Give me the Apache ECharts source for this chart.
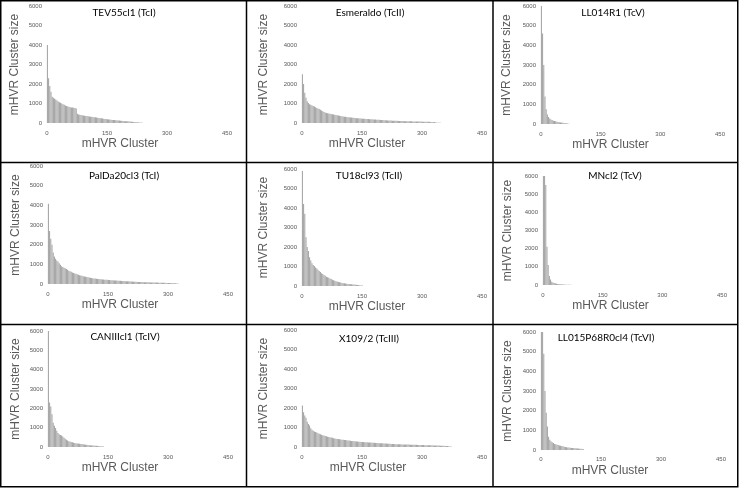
<!DOCTYPE html>
<html>
<head>
<meta charset="utf-8">
<script src="https://cdn.jsdelivr.net/npm/echarts@6/dist/echarts.min.js"></script>
<style>
html,body{margin:0;padding:0;background:#fff;}
#chart{width:740px;height:488px;}
</style>
</head>
<body>
<div id="chart"></div>
<script>
const STEP = 3;
const xTicks = [0, 150, 300, 450];
const yTicks = [0, 1000, 2000, 3000, 4000, 5000, 6000];
const titles = ['TEV55cl1 (TcI)', 'Esmeraldo (TcII)', 'LL014R1 (TcV)',
                'PalDa20cl3 (TcI)', 'TU18cl93 (TcII)', 'MNcl2 (TcV)',
                'CANIIIcl1 (TcIV)', 'X109/2 (TcIII)', 'LL015P68R0cl4 (TcVI)'];
const xName = 'mHVR Cluster';
const yName = 'mHVR Cluster size';

const tev55 = [4000,2300,1900,1600,1350,1300,1250,1200,1150,1100,1060,1040,1000,960,930,900,870,850,830,810,800,790,780,770,740,470,440,425,410,395,385,375,365,355,345,335,325,315,305,300,290,280,270,260,250,240,230,220,210,200,195,185,175,170,160,155,150,140,135,130,125,120,110,105,100,95,90,85,80,72,65,60,55,48,40,35,30,25,20,12];
const esmeraldo = [2500,2000,1550,1300,1120,1020,960,930,900,870,850,810,770,740,715,680,640,600,570,540,515,500,485,470,460,450,435,425,415,400,385,370,355,345,335,325,315,305,298,290,283,276,270,263,256,250,244,238,232,226,220,216,212,208,204,200,195,190,186,182,178,174,170,166,162,158,153,149,145,141,138,134,130,127,124,121,118,115,112,109,106,104,102,100,98,96,94,92,90,88,86,84,82,80,78,76,75,74,73,72,70,68,66,64,62,60,58,55,52,50,45,30,22,18,14,10];
const ll014 = [6000,4600,3000,1400,750,480,350,280,230,200,170,150,135,120,105,90,80,70,60,50,40,32,25,15];
const palda = [4080,2700,2300,2000,1600,1400,1280,1200,1140,1060,980,900,860,830,800,760,720,680,650,620,590,560,540,515,490,465,450,435,420,400,385,370,355,340,328,316,305,295,285,276,268,260,252,245,238,232,226,220,215,210,205,200,195,190,186,182,178,174,170,166,162,158,154,150,146,142,138,134,130,126,122,118,114,110,106,102,100,98,96,94,92,90,88,86,84,82,80,78,76,74,72,70,68,66,64,62,60,58,56,54,52,50,48,45,42,38,34,30,22];
const tu18 = [5900,4200,3700,2500,2000,1800,1480,1310,1170,1080,1020,950,900,830,770,720,660,610,570,520,480,450,420,390,355,320,300,270,250,230,210,195,175,155,145,135,125,115,105,100,95,88,82,76,70,62,55,48,40,30,20];
const mncl2 = [6000,6000,5500,2100,1100,500,300,180,140,110,90,75,60,50,42,36,30,26,22,18,15,12,10,8,6];
const caniii = [6000,2300,2100,1700,1250,1100,980,840,720,660,620,590,540,480,430,380,330,300,280,265,245,225,210,195,185,175,165,158,150,140,130,122,112,104,96,90,84,78,72,68,62,56,50,44,38,30,20];
const x109 = [2130,1780,1620,1500,1300,1180,1100,960,880,830,800,770,740,710,680,655,625,605,585,565,550,530,515,500,485,470,455,440,425,415,405,395,385,378,370,362,354,346,338,330,322,312,304,298,292,286,280,274,268,262,256,252,248,244,240,235,230,226,222,218,214,210,206,202,198,194,190,186,182,178,174,170,166,162,158,155,152,149,146,143,140,138,136,134,132,130,128,126,124,122,120,118,116,114,112,110,108,106,104,102,100,98,96,94,92,90,88,86,84,82,80,78,76,74,72,70,66,62,58,54,50,45,40,32,22];
const ll015 = [6000,6000,4900,3000,1900,1200,680,520,440,390,350,310,290,270,250,230,215,200,185,170,155,140,130,122,115,108,102,98,92,86,80,74,68,60,50,40];

const seriesValues = [tev55, esmeraldo, ll014, palda, tu18, mncl2, caniii, x109, ll015];

// ---- LAYOUT (pixels) ----
const plots = [
  [47, 6, 180, 117], [302, 6, 180, 117], [541, 6, 179, 118],
  [48, 166, 180, 118], [302, 169, 180, 117], [543, 176, 179, 109],
  [48, 331, 180, 116], [302, 330, 180, 117], [541, 332, 180, 118]
];
const titlePos = [[124,13],[370,13],[613,13],[124,176],[369,176],[615,176],[125,337],[369,339],[606,338]];
const yNameGap = [26, 32, 28, 26, 32, 29, 26, 32, 27];
const xNameShift = [17, 25, 20, 18, 25, 22, 18, 24, 21];
const xLabelMargin = [7, 7, 7, 7, 7, 7, 7, 7, 6];

const tickColor = '#595959';
const plain = v => String(v);
const grids = [], xAxes = [], yAxes = [], series = [], titleArr = [];
plots.forEach((p, i) => {
  grids.push({left: p[0], top: p[1], width: p[2], height: p[3], containLabel: false});
  xAxes.push({
    type: 'value', gridIndex: i, min: xTicks[0], max: xTicks[xTicks.length - 1],
    interval: xTicks[1] - xTicks[0],
    axisLine: {show: false}, axisTick: {show: false}, splitLine: {show: false},
    axisLabel: {fontSize: 6, color: tickColor, margin: xLabelMargin[i], fontFamily: 'Liberation Sans', formatter: plain},
    name: xName, nameLocation: 'middle', nameGap: 15,
    nameTextStyle: {fontSize: 12, color: '#595959', fontFamily: 'Liberation Sans',
                    padding: [0, xNameShift[i] * 2, 0, 0]}
  });
  yAxes.push({
    type: 'value', gridIndex: i, min: yTicks[0], max: yTicks[yTicks.length - 1],
    interval: yTicks[1] - yTicks[0],
    axisLine: {show: false}, axisTick: {show: false}, splitLine: {show: false},
    axisLabel: {fontSize: 6, color: tickColor, margin: 5, fontFamily: 'Liberation Sans', formatter: plain},
    name: yName, nameLocation: 'middle', nameGap: yNameGap[i],
    nameTextStyle: {fontSize: 12, color: '#595959', fontFamily: 'Liberation Sans'}
  });
  series.push({
    type: 'bar', xAxisIndex: i, yAxisIndex: i, barWidth: 1,
    itemStyle: {color: '#a0a0a0'},
    // each bar stands at the middle of its STEP-wide rank bin
    data: seriesValues[i].map((v, k) => [k * STEP + 1, v]),
    silent: true
  });
  titleArr.push({
    text: titles[i], left: titlePos[i][0], top: titlePos[i][1], padding: 0,
    textAlign: 'center', textVerticalAlign: 'middle',
    textStyle: {fontSize: 10, fontWeight: 'normal', color: '#000', fontFamily: 'Lato'}
  });
});

const border = {type: 'rect', shape: {x: 0.75, y: 0.75, width: 737, height: 486},
  style: {fill: 'none', stroke: '#000', lineWidth: 1.5}, silent: true};
const lines = [
  {type: 'line', shape: {x1: 246.5, y1: 0.75, x2: 246.5, y2: 486.75}},
  {type: 'line', shape: {x1: 493, y1: 0.75, x2: 493, y2: 486.75}},
  {type: 'line', shape: {x1: 0.75, y1: 162.5, x2: 737.75, y2: 162.5}},
  {type: 'line', shape: {x1: 0.75, y1: 324.5, x2: 737.75, y2: 324.5}}
].map(l => Object.assign(l, {style: {stroke: '#000', lineWidth: 1.5}, silent: true}));

const chart = echarts.init(document.getElementById('chart'), null, {renderer: 'canvas'});
chart.setOption({
  animation: false,
  backgroundColor: '#fff',
  title: titleArr,
  grid: grids,
  xAxis: xAxes,
  yAxis: yAxes,
  series: series,
  graphic: [border].concat(lines)
});
</script>
</body>
</html>
